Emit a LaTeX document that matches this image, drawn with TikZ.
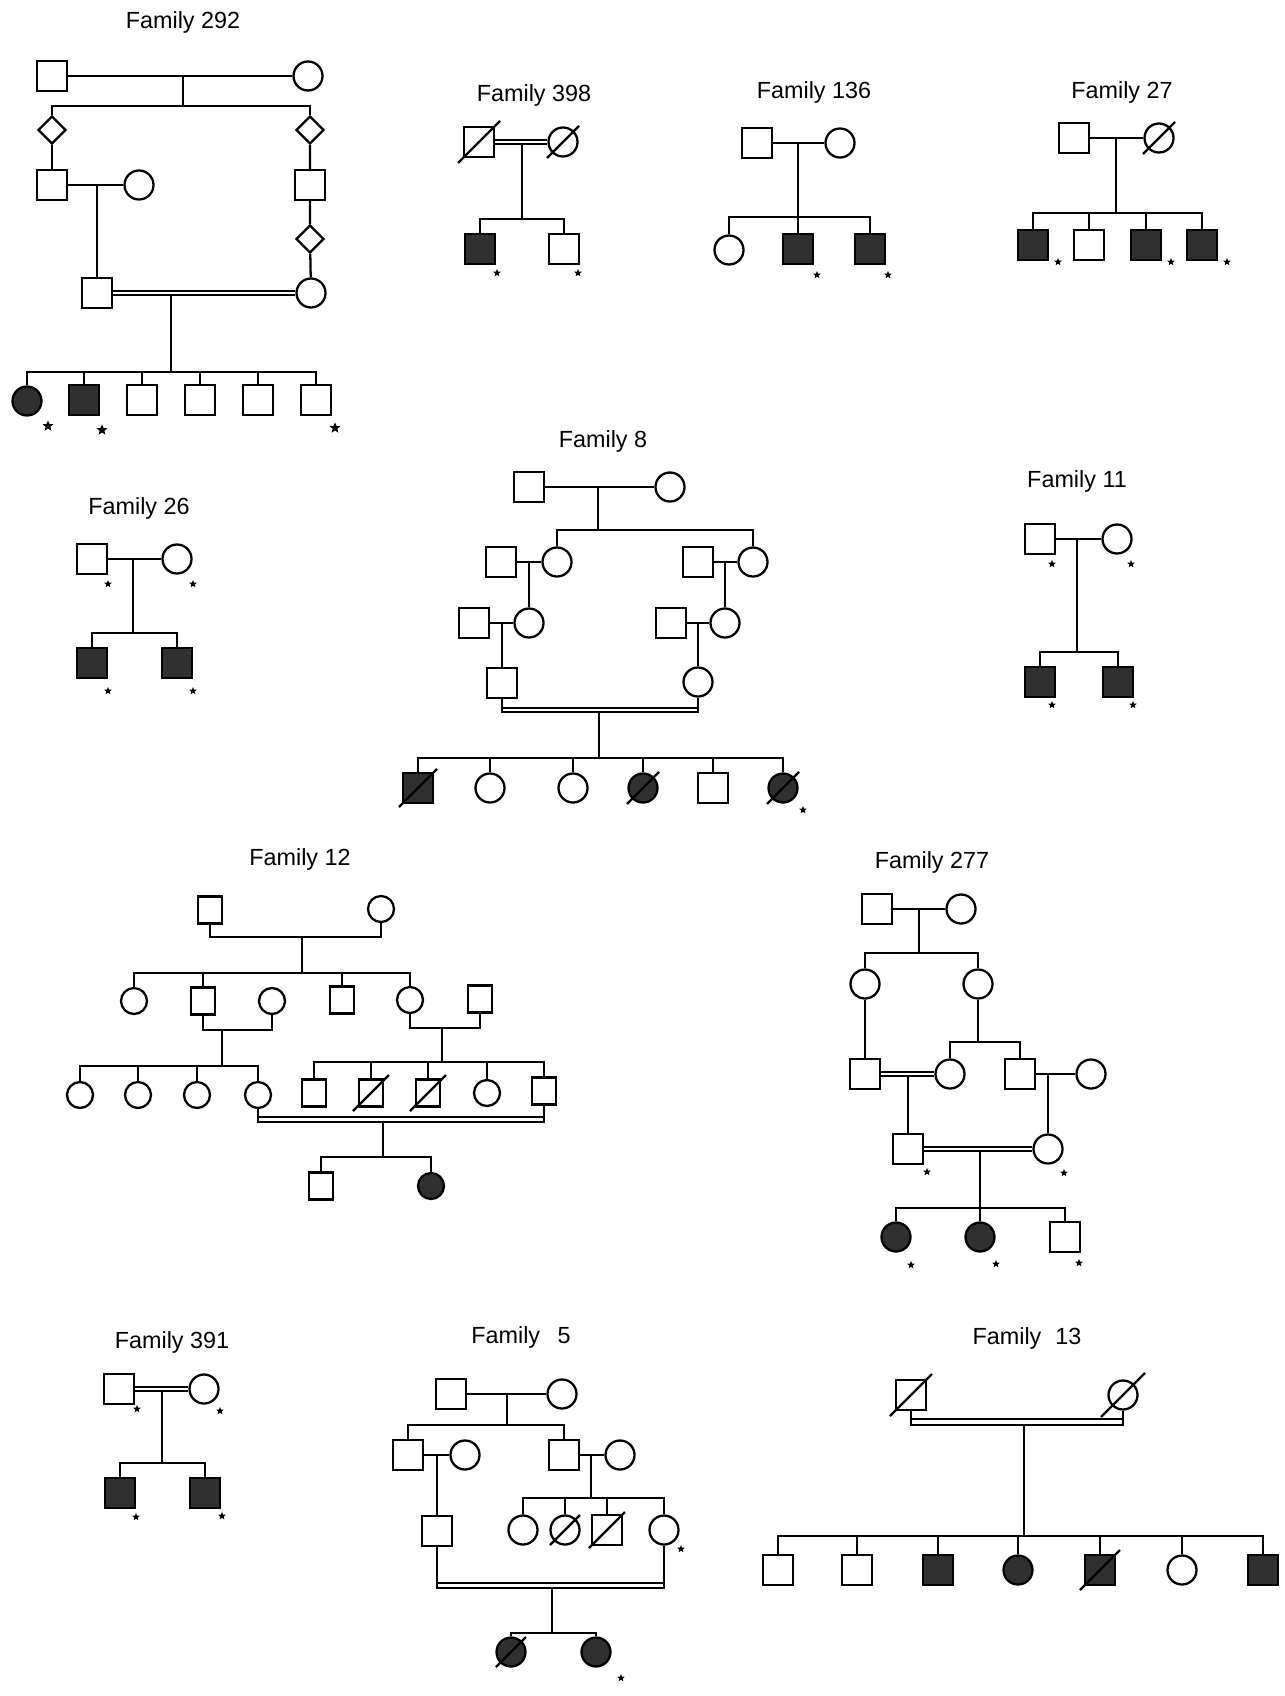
\documentclass[tikz,border=0pt]{standalone}
\usepackage{fontspec}
\setmainfont{Liberation Sans}
\usepackage{tikz}
\usetikzlibrary{shapes.geometric}
\definecolor{Affcolor}{RGB}{48,48,48}

% slash through a deceased individual
\newcommand{\deceased}[2][20]{\draw (#2.center) ++(-#1,#1) -- ++(2*#1,-2*#1);}

\begin{document}
\begin{tikzpicture}[
  x=0.02cm, y=-0.02cm,
  line width=1.3pt,
  male/.style={rectangle, draw, minimum size=0.6cm, inner sep=0pt},
  female/.style={circle, draw, minimum size=0.58cm, inner sep=0pt},
  unknown/.style={diamond, draw, minimum size=0.56cm, inner sep=0pt},
  aff/.style={fill=Affcolor},
  msmall/.style={male, minimum width=0.47cm, minimum height=0.54cm},
  fsmall/.style={female, minimum size=0.52cm},
  dbl/.style={double, double distance=1.1pt},
  tested/.style={star, star points=5, star point ratio=2.3, fill=black,
                 inner sep=0pt, minimum size=0.16cm},
  bigstar/.style={tested, minimum size=0.23cm},
  title/.style={font=\fontsize{13.3}{16}\selectfont}
]
\useasboundingbox (0,0) rectangle (1284,1696);

%% --- FAMILY 292 ---
\node[title] (t292) at (183,22) {Family 292};
\node[male] (f292-I1) at (52,76) {};
\node[female] (f292-I2) at (308,76) {};
\coordinate (m292a) at (183,76);
\coordinate (s292a) at (183,106);
\node[unknown] (f292-II1) at (52,130) {};
\node[unknown] (f292-II2) at (310,130) {};
\node[male] (f292-III1) at (52,185) {};
\node[female] (f292-III2) at (139,185) {};
\coordinate (m292b) at (97,185);
\node[male] (f292-III3) at (310,185) {};
\node[unknown] (f292-IV0) at (310,239) {};
\node[male] (f292-IV1) at (97,293) {};
\node[female] (f292-IV2) at (311,293) {};
\coordinate (m292c) at (171,295);
\coordinate (s292c) at (171,372);
\node[female, aff] (f292-V1) at (27,401) {};
\node[male, aff] (f292-V2) at (84,400) {};
\node[male] (f292-V3) at (142,400) {};
\node[male] (f292-V4) at (200,400) {};
\node[male] (f292-V5) at (258,400) {};
\node[male] (f292-V6) at (316,400) {};
\node[bigstar] (k292-V1) at (48,426) {};
\node[bigstar] (k292-V2) at (102,430) {};
\node[bigstar] (k292-V6) at (335,428) {};

\draw (f292-I1) -- (f292-I2);
\draw (m292a) -- (s292a);
\draw (f292-II1.north) |- (s292a) -| (f292-II2.north);
\draw (f292-II1) -- (f292-III1);
\draw (f292-III1) -- (f292-III2);
\draw (m292b) -- (f292-IV1);
\draw (f292-II2) -- (f292-III3) -- (f292-IV0) -- (f292-IV2);
\draw[dbl] (f292-IV1) -- (f292-IV2);
\draw (m292c) -- (s292c);
\draw (f292-V1.north) |- (s292c) -| (f292-V6.north);
\foreach \i in {2,...,5}
  \draw (f292-V\i.north) -- (f292-V\i.north |- s292c);

%% --- FAMILY 398 ---
\node[title] (t398) at (534,95) {Family 398};
\node[male] (f398-I1) at (479,142) {};
\node[female] (f398-I2) at (563,142) {};
\coordinate (m398) at (522,144);
\coordinate (s398) at (522,219);
\node[male, aff] (f398-II1) at (480,249) {};
\node[male] (f398-II2) at (564,249) {};
\node[tested] (k398-II1) at (497,273) {};
\node[tested] (k398-II2) at (578,273) {};

\draw[dbl] (f398-I1) -- (f398-I2);
\draw (m398) -- (s398);
\draw (f398-II1.north) |- (s398) -| (f398-II2.north);
\deceased[21]{f398-I1}
\deceased[16]{f398-I2}

%% --- FAMILY 136 ---
\node[title] (t136) at (814,92) {Family 136};
\node[male] (f136-I1) at (757,143) {};
\node[female] (f136-I2) at (840,143) {};
\coordinate (m136) at (798,143);
\coordinate (s136) at (798,217);
\node[female] (f136-II1) at (729,250) {};
\node[male, aff] (f136-II2) at (798,249) {};
\node[male, aff] (f136-II3) at (870,249) {};
\node[tested] (k136-II2) at (817,275) {};
\node[tested] (k136-II3) at (888,275) {};

\draw (f136-I1) -- (f136-I2);
\draw (m136) -- (s136);
\draw (f136-II1.north) |- (s136) -| (f136-II3.north);
\draw (s136) -- (f136-II2);

%% --- FAMILY 27 ---
\node[title] (t27) at (1122,92) {Family 27};
\node[male] (f27-I1) at (1074,138) {};
\node[female] (f27-I2) at (1159,138) {};
\coordinate (m27) at (1116,138);
\coordinate (s27) at (1116,213);
\node[male, aff] (f27-II1) at (1033,245) {};
\node[male] (f27-II2) at (1089,245) {};
\node[male, aff] (f27-II3) at (1146,245) {};
\node[male, aff] (f27-II4) at (1202,245) {};
\node[tested] (k27-II1) at (1058,262) {};
\node[tested] (k27-II3) at (1171,262) {};
\node[tested] (k27-II4) at (1227,262) {};

\draw (f27-I1) -- (f27-I2);
\draw (m27) -- (s27);
\draw (f27-II1.north) |- (s27) -| (f27-II4.north);
\foreach \i in {2,3}
  \draw (f27-II\i.north) -- (f27-II\i.north |- s27);
\deceased[16]{f27-I2}

%% --- FAMILY 26 ---
\node[title] (t26) at (139,508) {Family 26};
\node[male] (f26-I1) at (92,559) {};
\node[female] (f26-I2) at (177,559) {};
\coordinate (m26) at (133,559);
\coordinate (s26) at (133,633);
\node[male, aff] (f26-II1) at (92,663) {};
\node[male, aff] (f26-II2) at (177,663) {};
\node[tested] (k26-I1) at (108,584) {};
\node[tested] (k26-I2) at (193,584) {};
\node[tested] (k26-II1) at (108,691) {};
\node[tested] (k26-II2) at (193,691) {};

\draw (f26-I1) -- (f26-I2);
\draw (m26) -- (s26);
\draw (f26-II1.north) |- (s26) -| (f26-II2.north);

%% --- FAMILY 8 ---
\node[title] (t8) at (603,441) {Family 8};
\node[male] (f8-I1) at (529,487) {};
\node[female] (f8-I2) at (670,487) {};
\coordinate (m8a) at (598,487);
\coordinate (s8a) at (598,530);
\node[male] (f8-II1) at (501,562) {};
\node[female] (f8-II2) at (557,562) {};
\node[male] (f8-II3) at (698,562) {};
\node[female] (f8-II4) at (753,562) {};
\coordinate (m8b) at (529,562);
\coordinate (m8c) at (725,562);
\node[male] (f8-III1) at (474,623) {};
\node[female] (f8-III2) at (529,623) {};
\node[male] (f8-III3) at (671,623) {};
\node[female] (f8-III4) at (725,623) {};
\coordinate (m8d) at (502,623);
\coordinate (m8e) at (698,623);
\node[male] (f8-IV1) at (502,683) {};
\node[female] (f8-IV2) at (698,682) {};
\coordinate (u8) at (599,712);
\coordinate (u8i) at (599,708);
\coordinate (s8b) at (599,758);
\node[male, aff] (f8-V1) at (418,788) {};
\node[female] (f8-V2) at (490,788) {};
\node[female] (f8-V3) at (573,788) {};
\node[female, aff] (f8-V4) at (643,788) {};
\node[male] (f8-V5) at (713,788) {};
\node[female, aff] (f8-V6) at (783,788) {};
\node[tested] (k8-V6) at (803,810) {};

\draw (f8-I1) -- (f8-I2);
\draw (m8a) -- (s8a);
\draw (f8-II2.north) |- (s8a) -| (f8-II4.north);
\draw (f8-II1) -- (f8-II2);
\draw (f8-II3) -- (f8-II4);
\draw (m8b) -- (f8-III2);
\draw (m8c) -- (f8-III4);
\draw (f8-III1) -- (f8-III2);
\draw (f8-III3) -- (f8-III4);
\draw (m8d) -- (f8-IV1);
\draw (m8e) -- (f8-IV2);
\draw (f8-IV1.south) |- (u8) -| (f8-IV2.south);
\draw (f8-IV1.south |- u8i) -- (f8-IV2.south |- u8i);
\draw (u8) -- (s8b);
\draw (f8-V1.north) |- (s8b) -| (f8-V6.north);
\foreach \i in {2,...,5}
  \draw (f8-V\i.north) -- (f8-V\i.north |- s8b);
\deceased[19]{f8-V1}
\deceased[16]{f8-V4}
\deceased[16]{f8-V6}

%% --- FAMILY 11 ---
\node[title] (t11) at (1077,481) {Family 11};
\node[male] (f11-I1) at (1040,539) {};
\node[female] (f11-I2) at (1117,539) {};
\coordinate (m11) at (1077,539);
\coordinate (s11) at (1077,652);
\node[male, aff] (f11-II1) at (1040,682) {};
\node[male, aff] (f11-II2) at (1118,682) {};
\node[tested] (k11-I1) at (1052,564) {};
\node[tested] (k11-I2) at (1131,564) {};
\node[tested] (k11-II1) at (1052,705) {};
\node[tested] (k11-II2) at (1133,705) {};

\draw (f11-I1) -- (f11-I2);
\draw (m11) -- (s11);
\draw (f11-II1.north) |- (s11) -| (f11-II2.north);

%% --- FAMILY 12 ---
\node[title] (t12) at (300,859) {Family 12};
\node[msmall] (f12-I1) at (210,910) {};
\node[fsmall] (f12-I2) at (381,909) {};
\coordinate (u12a) at (302,937);
\coordinate (s12a) at (302,973);
\node[fsmall] (f12-II1) at (134,1001) {};
\node[msmall] (f12-II2) at (203,1001) {};
\node[fsmall] (f12-II3) at (272,1001) {};
\node[msmall] (f12-II4) at (342,1000) {};
\node[fsmall] (f12-II5) at (410,1000) {};
\node[msmall] (f12-II6) at (480,999) {};
\coordinate (u12b) at (222,1030);
\coordinate (s12b) at (222,1066);
\coordinate (u12c) at (442,1028);
\coordinate (s12c) at (442,1062);
\node[fsmall] (f12-III1) at (80,1095) {};
\node[fsmall] (f12-III2) at (138,1095) {};
\node[fsmall] (f12-III3) at (197,1095) {};
\node[fsmall] (f12-III4) at (258,1095) {};
\node[msmall] (f12-III5) at (314,1093) {};
\node[msmall] (f12-III6) at (371,1093) {};
\node[msmall] (f12-III7) at (428,1093) {};
\node[fsmall] (f12-III8) at (487,1093) {};
\node[msmall] (f12-III9) at (544,1091) {};
\coordinate (u12d) at (383,1122);
\coordinate (u12di) at (383,1117);
\coordinate (s12d) at (383,1157);
\node[msmall] (f12-IV1) at (321,1186) {};
\node[fsmall, aff] (f12-IV2) at (431,1186) {};

\draw (f12-I1.south) |- (u12a) -| (f12-I2.south);
\draw (u12a) -- (s12a);
\draw (f12-II1.north) |- (s12a) -| (f12-II5.north);
\foreach \i in {2,4}
  \draw (f12-II\i.north) -- (f12-II\i.north |- s12a);
\draw (f12-II2.south) |- (u12b) -| (f12-II3.south);
\draw (u12b) -- (s12b);
\draw (f12-II5.south) |- (u12c) -| (f12-II6.south);
\draw (u12c) -- (s12c);
\draw (f12-III1.north) |- (s12b) -| (f12-III4.north);
\foreach \i in {2,3}
  \draw (f12-III\i.north) -- (f12-III\i.north |- s12b);
\draw (f12-III5.north) |- (s12c) -| (f12-III9.north);
\foreach \i in {6,7,8}
  \draw (f12-III\i.north) -- (f12-III\i.north |- s12c);
\draw (f12-III4.south) |- (u12d) -| (f12-III9.south);
\draw (f12-III4.south |- u12di) -- (f12-III9.south |- u12di);
\draw (u12d) -- (s12d);
\draw (f12-IV1.north) |- (s12d) -| (f12-IV2.north);
\deceased[18]{f12-III6}
\deceased[18]{f12-III7}

%% --- FAMILY 277 ---
\node[title] (t277) at (932,862) {Family 277};
\node[male] (f277-I1) at (877,909) {};
\node[female] (f277-I2) at (961,909) {};
\coordinate (m277a) at (919,909);
\coordinate (s277a) at (919,953);
\node[female] (f277-II1) at (865,984) {};
\node[female] (f277-II2) at (978,984) {};
\coordinate (s277b) at (978,1042);
\node[male] (f277-III1) at (865,1074) {};
\node[female] (f277-III2) at (950,1074) {};
\node[male] (f277-III3) at (1020,1074) {};
\node[female] (f277-III4) at (1091,1074) {};
\coordinate (m277b) at (908,1077);
\coordinate (m277c) at (1048,1074);
\node[male] (f277-IV1) at (908,1149) {};
\node[female] (f277-IV2) at (1048,1149) {};
\coordinate (m277d) at (980,1152);
\coordinate (s277c) at (980,1208);
\node[female, aff] (f277-V1) at (896,1237) {};
\node[female, aff] (f277-V2) at (980,1237) {};
\node[male] (f277-V3) at (1065,1237) {};
\node[tested] (k277-IV1) at (927,1172) {};
\node[tested] (k277-IV2) at (1064,1173) {};
\node[tested] (k277-V1) at (911,1265) {};
\node[tested] (k277-V2) at (996,1264) {};
\node[tested] (k277-V3) at (1079,1263) {};

\draw (f277-I1) -- (f277-I2);
\draw (m277a) -- (s277a);
\draw (f277-II1.north) |- (s277a) -| (f277-II2.north);
\draw (f277-II1) -- (f277-III1);
\draw (f277-II2) -- (s277b);
\draw (f277-III2.north) |- (s277b) -| (f277-III3.north);
\draw[dbl] (f277-III1) -- (f277-III2);
\draw (f277-III3) -- (f277-III4);
\draw (m277b) -- (f277-IV1);
\draw (m277c) -- (f277-IV2);
\draw[dbl] (f277-IV1) -- (f277-IV2);
\draw (m277d) -- (s277c);
\draw (f277-V1.north) |- (s277c) -| (f277-V3.north);
\draw (s277c) -- (f277-V2);

%% --- FAMILY 391 ---
\node[title] (t391) at (172,1342) {Family 391};
\node[male] (f391-I1) at (119,1389) {};
\node[female] (f391-I2) at (204,1389) {};
\coordinate (m391) at (162,1391);
\coordinate (s391) at (162,1463);
\node[male, aff] (f391-II1) at (120,1493) {};
\node[male, aff] (f391-II2) at (205,1493) {};
\node[tested] (k391-I1) at (137,1409) {};
\node[tested] (k391-I2) at (220,1411) {};
\node[tested] (k391-II1) at (136,1517) {};
\node[tested] (k391-II2) at (222,1516) {};

\draw[dbl] (f391-I1) -- (f391-I2);
\draw (m391) -- (s391);
\draw (f391-II1.north) |- (s391) -| (f391-II2.north);

%% --- FAMILY 5 ---
\node[title] (t5) at (521,1337) {Family\hspace{0.75em}5};
\node[male] (f5-I1) at (451,1394) {};
\node[female] (f5-I2) at (562,1394) {};
\coordinate (m5a) at (507,1394);
\coordinate (s5a) at (507,1425);
\node[male] (f5-II1) at (408,1455) {};
\node[female] (f5-II2) at (465,1455) {};
\node[male] (f5-II3) at (564,1455) {};
\node[female] (f5-II4) at (620,1455) {};
\coordinate (m5b) at (437,1455);
\coordinate (m5c) at (591,1455);
\coordinate (s5b) at (591,1498);
\node[male] (f5-III1) at (437,1531) {};
\node[female] (f5-III2) at (523,1530) {};
\node[female] (f5-III3) at (565,1530) {};
\node[male] (f5-III4) at (607,1530) {};
\node[female] (f5-III5) at (664,1530) {};
\coordinate (u5) at (552,1588);
\coordinate (u5i) at (552,1583);
\coordinate (s5c) at (552,1633);
\node[female, aff] (f5-IV1) at (511,1652) {};
\node[female, aff] (f5-IV2) at (596,1652) {};
\node[tested] (k5-III5) at (681,1549) {};
\node[tested] (k5-IV2) at (621,1678) {};

\draw (f5-I1) -- (f5-I2);
\draw (m5a) -- (s5a);
\draw (f5-II1.north) |- (s5a) -| (f5-II3.north);
\draw (f5-II1) -- (f5-II2);
\draw (f5-II3) -- (f5-II4);
\draw (m5b) -- (f5-III1);
\draw (m5c) -- (s5b);
\draw (f5-III2.north) |- (s5b) -| (f5-III5.north);
\foreach \i in {3,4}
  \draw (f5-III\i.north) -- (f5-III\i.north |- s5b);
\draw (f5-III1.south) |- (u5) -| (f5-III5.south);
\draw (f5-III1.south |- u5i) -- (f5-III5.south |- u5i);
\draw (u5) -- (s5c);
\draw (f5-IV1.north) |- (s5c) -| (f5-IV2.north);
\deceased[15]{f5-III3}
\deceased[18]{f5-III4}
\deceased[15]{f5-IV1}

%% --- FAMILY 13 ---
\node[title] (t13) at (1027,1338) {Family\hspace{0.6em}13};
\node[male] (f13-I1) at (911,1395) {};
\node[female] (f13-I2) at (1123,1395) {};
\coordinate (u13) at (1024,1425);
\coordinate (u13i) at (1024,1419);
\coordinate (s13) at (1024,1536);
\node[male] (f13-II1) at (778,1570) {};
\node[male] (f13-II2) at (857,1570) {};
\node[male, aff] (f13-II3) at (938,1570) {};
\node[female, aff] (f13-II4) at (1018,1570) {};
\node[male, aff] (f13-II5) at (1100,1570) {};
\node[female] (f13-II6) at (1182,1570) {};
\node[male, aff] (f13-II7) at (1263,1570) {};

\draw (f13-I1.south) |- (u13) -| (f13-I2.south);
\draw (f13-I1.south |- u13i) -- (f13-I2.south |- u13i);
\draw (u13) -- (s13);
\draw (f13-II1.north) |- (s13) -| (f13-II7.north);
\foreach \i in {2,...,6}
  \draw (f13-II\i.north) -- (f13-II\i.north |- s13);
\deceased[21]{f13-I1}
\deceased[22]{f13-I2}
\deceased[20]{f13-II5}

\end{tikzpicture}
\end{document}
